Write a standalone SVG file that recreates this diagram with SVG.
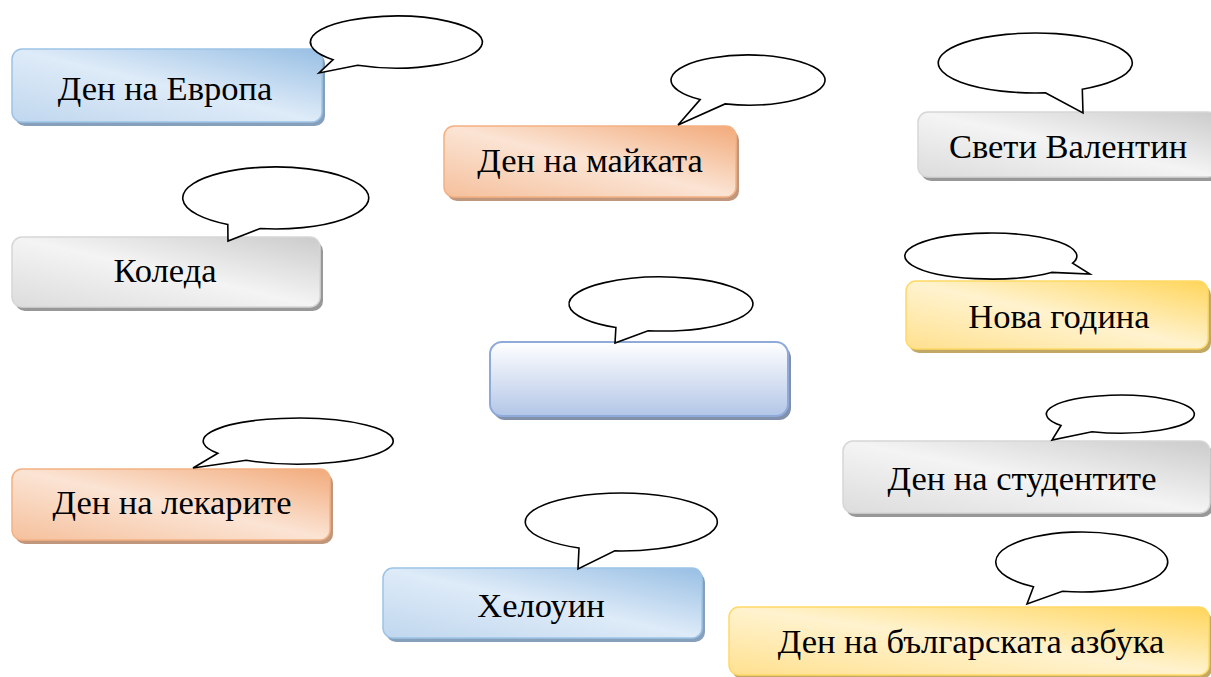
<svg xmlns="http://www.w3.org/2000/svg" width="1211" height="677" viewBox="0 0 1211 677">
  <defs>
    <linearGradient id="gBlue" x1="1" y1="0" x2="0" y2="1">
      <stop offset="0" stop-color="#98bfe4"/>
      <stop offset="0.5" stop-color="#deebf8"/>
      <stop offset="1" stop-color="#c0d7ee"/>
    </linearGradient>
    <linearGradient id="gOrange" x1="1" y1="0" x2="0" y2="1">
      <stop offset="0" stop-color="#f2aa7a"/>
      <stop offset="0.5" stop-color="#fbe4d4"/>
      <stop offset="1" stop-color="#f5c09c"/>
    </linearGradient>
    <linearGradient id="gGray" x1="1" y1="0" x2="0" y2="1">
      <stop offset="0" stop-color="#cbcbcb"/>
      <stop offset="0.5" stop-color="#f4f4f4"/>
      <stop offset="1" stop-color="#dcdcdc"/>
    </linearGradient>
    <linearGradient id="gYellow" x1="1" y1="0" x2="0" y2="1">
      <stop offset="0" stop-color="#ffd55a"/>
      <stop offset="0.5" stop-color="#fff3cf"/>
      <stop offset="1" stop-color="#ffe08f"/>
    </linearGradient>
    <linearGradient id="gPale" x1="0" y1="0" x2="0" y2="1">
      <stop offset="0" stop-color="#ffffff"/>
      <stop offset="1" stop-color="#b3c6e7"/>
    </linearGradient>
    <filter id="soft" x="-5%" y="-20%" width="110%" height="140%">
      <feGaussianBlur stdDeviation="0.6"/>
    </filter>
  </defs>
  <style>
    .label { font-family: "Liberation Serif", "Times New Roman", serif; font-size: 34.5px; fill: #000; text-anchor: middle; }
    .bubble { fill: #fff; stroke: #000; stroke-width: 1.6; stroke-linejoin: miter; }
    .shadow { filter: url(#soft); }
    .blue { fill: url(#gBlue); stroke: #9dc3e6; stroke-width: 1.5; }
    .orange { fill: url(#gOrange); stroke: #f4b183; stroke-width: 1.5; }
    .gray { fill: url(#gGray); stroke: #d6d6d6; stroke-width: 1.5; }
    .yellow { fill: url(#gYellow); stroke: #ffd966; stroke-width: 1.5; }
    .pale { fill: url(#gPale); stroke: #8eaadb; stroke-width: 2; }
    .sh-blue { fill: #86a0bb; }
    .sh-orange { fill: #c0967b; }
    .sh-gray { fill: #989898; }
    .sh-yellow { fill: #c2a865; }
    .sh-pale { fill: #8190ab; }
  </style>

  <!-- Ден на Европа -->
  <g id="node-europe">
    <rect class="shadow sh-blue" x="15" y="53" width="310" height="73" rx="10"/>
    <rect class="blue" x="12" y="49" width="310" height="73" rx="10"/>
    <text class="label" x="165" y="100">Ден на Европа</text>
    <path class="bubble" d="M333.1,59.7 L319,73 L357.6,65.3 A86,26 0 1 0 333.1,59.7 Z"/>
  </g>

  <!-- Ден на майката -->
  <g id="node-mother">
    <rect class="shadow sh-orange" x="447" y="130" width="292" height="71" rx="10"/>
    <rect class="orange" x="444" y="126" width="292" height="71" rx="10"/>
    <text class="label" x="590" y="172">Ден на майката</text>
    <path class="bubble" d="M700.1,99.6 L678,125 L725.1,103.9 A77,25 0 1 0 700.1,99.6 Z"/>
  </g>

  <!-- Свети Валентин -->
  <g id="node-valentine">
    <rect class="shadow sh-gray" x="921" y="116" width="300" height="65" rx="10"/>
    <rect class="gray" x="918" y="112" width="300" height="65" rx="10"/>
    <text class="label" x="1068" y="158">Свети Валентин</text>
    <path class="bubble" d="M1045.3,92.8 L1083,113 L1082.3,89.2 A97,30 0 1 0 1045.3,92.8 Z"/>
  </g>

  <!-- Коледа -->
  <g id="node-christmas">
    <rect class="shadow sh-gray" x="15" y="241" width="308" height="70" rx="10"/>
    <rect class="gray" x="12" y="237" width="308" height="70" rx="10"/>
    <text class="label" x="165" y="282">Коледа</text>
    <path class="bubble" d="M227.8,224.5 L228,241 L260.2,228.5 A93,31 0 1 0 227.8,224.5 Z"/>
  </g>

  <!-- Нова година -->
  <g id="node-newyear">
    <rect class="shadow sh-yellow" x="909" y="285" width="302" height="68" rx="10"/>
    <rect class="yellow" x="906" y="281" width="302" height="68" rx="10"/>
    <text class="label" x="1059" y="328">Нова година</text>
    <path class="bubble" d="M1051.4,272.4 L1090,274 L1072.6,263.2 A86,23 0 1 0 1051.4,272.4 Z"/>
  </g>

  <!-- blank centre box -->
  <g id="node-blank">
    <rect class="shadow sh-pale" x="493" y="346" width="298" height="74" rx="12"/>
    <rect class="pale" x="490" y="342" width="298" height="74" rx="12"/>
    <path class="bubble" d="M615.9,327.5 L615,343 L648.1,330.7 A92,27 0 1 0 615.9,327.5 Z"/>
  </g>

  <!-- Ден на лекарите -->
  <g id="node-doctors">
    <rect class="shadow sh-orange" x="15" y="473" width="318" height="71" rx="10"/>
    <rect class="orange" x="12" y="469" width="318" height="71" rx="10"/>
    <text class="label" x="172" y="514">Ден на лекарите</text>
    <path class="bubble" d="M217.8,453.3 L193,468 L246.2,460.3 A95,23 0 1 0 217.8,453.3 Z"/>
  </g>

  <!-- Хелоуин -->
  <g id="node-halloween">
    <rect class="shadow sh-blue" x="386" y="572" width="319" height="70" rx="10"/>
    <rect class="blue" x="383" y="568" width="319" height="70" rx="10"/>
    <text class="label" x="541" y="617">Хелоуин</text>
    <path class="bubble" d="M579,548 L578,569 L614.8,550.9 A96,29 0 1 0 579,548 Z"/>
  </g>

  <!-- Ден на студентите -->
  <g id="node-students">
    <rect class="shadow sh-gray" x="846" y="445" width="367" height="72" rx="10"/>
    <rect class="gray" x="843" y="441" width="367" height="72" rx="10"/>
    <text class="label" x="1022" y="490">Ден на студентите</text>
    <path class="bubble" d="M1061,425.5 L1052,440 L1092,431.7 A74,19 0 1 0 1061,425.5 Z"/>
  </g>

  <!-- Ден на българската азбука -->
  <g id="node-alphabet">
    <rect class="shadow sh-yellow" x="732" y="611" width="480" height="68" rx="10"/>
    <rect class="yellow" x="729" y="607" width="480" height="68" rx="10"/>
    <text class="label" x="971" y="653">Ден на българската азбука</text>
    <path class="bubble" d="M1033.5,586.8 L1027,604 L1062.5,591.2 A86,30 0 1 0 1033.5,586.8 Z"/>
  </g>

  <g id="connectors"/>
</svg>
